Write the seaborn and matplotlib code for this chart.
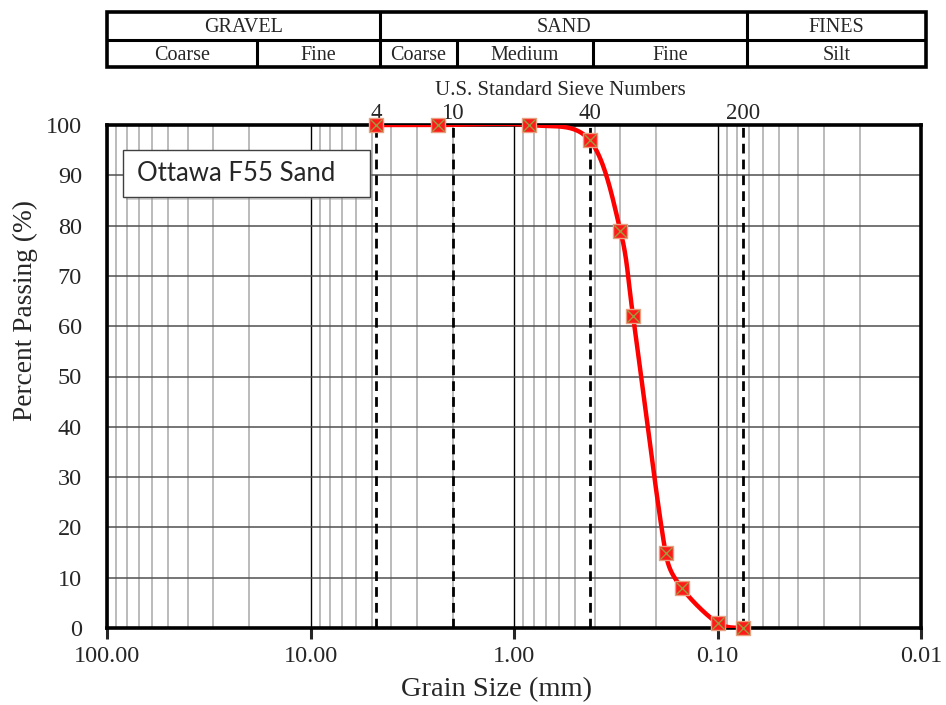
import numpy as np
import pandas as pd
import seaborn as sns
import matplotlib.pyplot as plt
from matplotlib.ticker import LogLocator, FixedLocator, NullFormatter
from matplotlib.patches import Rectangle
import matplotlib.patheffects as pe

OUTPUT_FILE = "out.png"

# gradation data
GRAIN_MM = [4.75, 2.36, 0.84, 0.425, 0.30, 0.26, 0.18, 0.15, 0.10, 0.075]
PASSING = [100, 100, 100, 97, 79, 62, 15, 8, 1, 0]

SIEVE_NUMBERS = ["4", "10", "40", "200"]
SIEVE_MM = [4.75, 2.0, 0.425, 0.075]

X_TICKS = [100, 10, 1, 0.1, 0.01]
X_TICK_LABELS = ["100.00", "10.00", "1.00", "0.10", "0.01"]
Y_TICKS = list(range(0, 101, 10))

TOP_ROW = ["GRAVEL", "SAND", "FINES"]
BOTTOM_ROW = ["Coarse", "Fine", "Coarse", "Medium", "Fine", "Silt"]
# cell edges of the classification table (fraction of table width)
TOP_EDGES = [0.0, 0.3333, 0.7814, 1.0]
BOTTOM_EDGES = [0.0, 0.1832, 0.3333, 0.4274, 0.5934, 0.7814, 1.0]

SERIF = ["Liberation Serif", "DejaVu Serif"]


def smooth_curve(xs, ys, n=40):
    # Excel style smoothed line (bezier through the points), built in screen-like space
    u = (2 - np.log10(xs)) * 203.5
    v = np.asarray(ys, dtype=float) * 5.03
    pts = np.column_stack([u, v])
    out = []
    t = np.linspace(0, 1, n)[:, None]
    for i in range(len(pts) - 1):
        p0 = pts[max(i - 1, 0)]
        p1 = pts[i]
        p2 = pts[i + 1]
        p3 = pts[min(i + 2, len(pts) - 1)]
        chord = np.hypot(*(p2 - p1))
        a1 = (p2 - p0) / 6
        a2 = (p3 - p1) / 6
        # keep the control arms shorter than half the segment
        for a in (a1, a2):
            L = np.hypot(*a)
            if L > 0.45 * chord:
                a *= 0.45 * chord / L
        c1 = p1 + a1
        c2 = p2 - a2
        seg = ((1 - t) ** 3) * p1 + 3 * ((1 - t) ** 2) * t * c1 \
            + 3 * (1 - t) * t ** 2 * c2 + t ** 3 * p2
        out.append(seg)
    out = np.vstack(out)
    return pd.DataFrame({"size": 10 ** (2 - out[:, 0] / 203.5),
                         "passing": out[:, 1] / 5.03})


def draw_table(tab: plt.Axes):
    tab.set_xlim(0, 1)
    tab.set_ylim(0, 1)
    tab.axis("off")
    tab.add_patch(Rectangle((0, 0), 1, 1, fill=False, lw=2.6, ec="black",
                            transform=tab.transAxes, clip_on=False))
    tab.plot([0, 1], [0.49, 0.49], color="black", lw=2.2)
    for e in TOP_EDGES[1:-1]:
        tab.plot([e, e], [0.49, 1], color="black", lw=2.2)
    for e in BOTTOM_EDGES[1:-1]:
        tab.plot([e, e], [0, 0.49], color="black", lw=2.2)
    for i, name in enumerate(TOP_ROW):
        tab.text((TOP_EDGES[i] + TOP_EDGES[i + 1]) / 2, 0.71, name,
                 ha="center", va="center", fontsize=14.5, family=SERIF)
    for i, name in enumerate(BOTTOM_ROW):
        tab.text((BOTTOM_EDGES[i] + BOTTOM_EDGES[i + 1]) / 2, 0.21, name,
                 ha="center", va="center", fontsize=14.5, family=SERIF)


def draw_gradation(ax: plt.Axes):
    ax.set_xscale("log")
    ax.set_xlim(100, 0.01)
    ax.set_ylim(0, 100)

    # grid
    ax.xaxis.set_major_locator(FixedLocator(X_TICKS))
    ax.xaxis.set_minor_locator(LogLocator(base=10, subs=np.arange(2, 10)))
    ax.xaxis.set_minor_formatter(NullFormatter())
    ax.set_xticklabels(X_TICK_LABELS)
    ax.set_yticks(Y_TICKS)
    ax.grid(which="major", axis="x", color="black", lw=1.0, zorder=0)
    ax.grid(which="minor", axis="x", color="#a8a8a8", lw=1.1, zorder=0)
    ax.grid(which="major", axis="y", color="#505050", lw=1.1, zorder=0)
    ax.set_axisbelow(True)

    # sieve lines
    for d in SIEVE_MM:
        ax.axvline(d, color="black", lw=2.0, ls=(0, (3.5, 2.2)), zorder=2)

    curve = smooth_curve(GRAIN_MM, PASSING)
    sns.lineplot(data=curve, x="size", y="passing", sort=False, color="#ff0000",
                 lw=3.2, ax=ax, zorder=3, estimator=None)
    pts = pd.DataFrame({"size": GRAIN_MM, "passing": PASSING})
    sns.scatterplot(data=pts, x="size", y="passing", marker="s", s=100,
                    color="#ff1a1a", edgecolor="#e8a080", linewidth=1.0,
                    ax=ax, zorder=4, clip_on=False)
    sns.scatterplot(data=pts, x="size", y="passing", marker="x", s=75,
                    color="#9c9a3c", linewidth=1.0, ax=ax, zorder=5,
                    clip_on=False)

    for s in ax.spines.values():
        s.set_linewidth(2.6)
        s.set_color("black")
        s.set_visible(True)
    ax.tick_params(axis="x", which="major", direction="out", length=8,
                   width=2.2, labelsize=17.5, pad=5, bottom=True)
    ax.tick_params(axis="x", which="minor", length=0)
    ax.tick_params(axis="y", length=0, labelsize=17.5, pad=18)
    for lab in ax.get_xticklabels() + ax.get_yticklabels():
        lab.set_family(SERIF)

    ax.set_xlabel("Grain Size (mm)", fontsize=20.5, family=SERIF)
    ax.xaxis.set_label_coords(0.4785, -0.097)
    ax.set_ylabel("Percent Passing (%)", fontsize=19.7, family=SERIF)
    ax.yaxis.set_label_coords(-0.0848, 0.632)

    # sieve numbers on top
    top = ax.secondary_xaxis("top")
    top.set_xticks(SIEVE_MM)
    top.set_xticklabels(SIEVE_NUMBERS)
    top.xaxis.set_minor_locator(FixedLocator([]))
    top.tick_params(length=0, labelsize=16.5, pad=1)
    for lab in top.get_xticklabels():
        lab.set_family(SERIF)
    top.spines["top"].set_visible(False)
    ax.text(0.5565, 1.068, "U.S. Standard Sieve Numbers", transform=ax.transAxes,
            ha="center", va="center", fontsize=15, family=SERIF)

    # sample label box
    box = Rectangle((0.0197, 0.857), 0.303, 0.093, transform=ax.transAxes,
                    facecolor="white", edgecolor="#404040", lw=1.0, zorder=6)
    box.set_path_effects([pe.SimplePatchShadow(offset=(2, -2), shadow_rgbFace="#909090",
                                               alpha=0.4), pe.Normal()])
    ax.add_patch(box)
    ax.text(0.037, 0.903, "Ottawa F55 Sand", transform=ax.transAxes,
            ha="left", va="center", fontsize=18.5, family=["Lato", "DejaVu Sans"],
            zorder=7)


def main():
    sns.set_style("white")
    plt.rcParams["font.family"] = SERIF
    fig = plt.figure(figsize=(9.46, 7.05), dpi=100)
    ax = fig.add_axes([107 / 946, 77 / 705, 814 / 946, 503 / 705])
    tab = fig.add_axes([107 / 946, 638 / 705, 819 / 946, 55 / 705])
    draw_gradation(ax)
    draw_table(tab)
    fig.savefig(OUTPUT_FILE, dpi=100)


if __name__ == "__main__":
    main()
